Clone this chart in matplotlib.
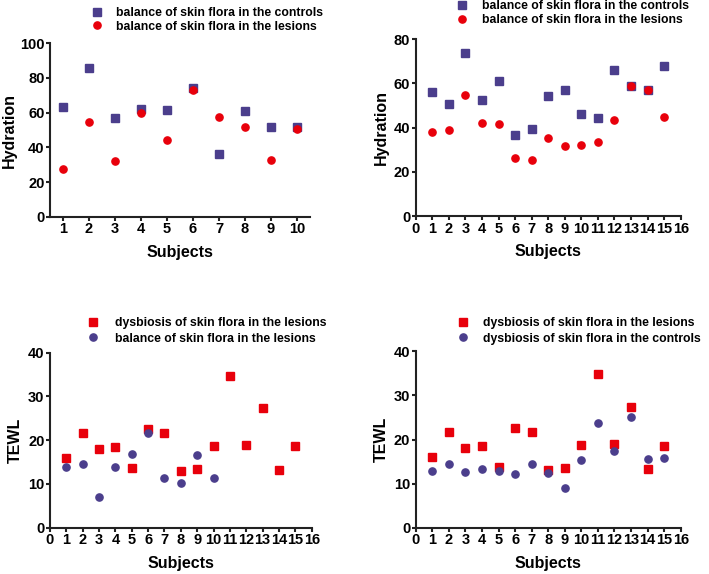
import matplotlib
matplotlib.use("Agg")
import matplotlib.pyplot as plt
import numpy as np

plt.rcParams['font.family'] = ['Liberation Sans', 'DejaVu Sans']
plt.rcParams['font.weight'] = 'bold'

# ---- data ----
p1_x = list(range(1, 11))
p1_controls = [63.5, 85.6, 57.1, 62.1, 61.3, 74.0, 36.3, 61.2, 51.7, 51.5]
p1_lesions = [27.5, 54.6, 31.9, 59.6, 44.2, 73.1, 57.5, 51.7, 32.9, 50.4]

p2_x = list(range(1, 16))
p2_controls = [56.0, 50.9, 73.7, 52.7, 61.1, 36.8, 39.2, 54.5, 56.9, 46.3, 44.5, 66.3, 59.0, 56.9, 68.1]
p2_lesions = [38.0, 38.9, 54.6, 42.1, 41.5, 26.3, 25.4, 35.5, 31.8, 32.3, 33.4, 43.6, 58.9, 57.1, 45.0]

p3_x_dys = list(range(1, 16))
p3_dys_lesions = [16.0, 21.6, 18.1, 18.5, 13.7, 22.5, 21.7, 13.0, 13.5, 18.7, 34.7, 18.9, 27.4, 13.2, 18.6]
p3_x_bal = list(range(1, 11))
p3_bal_lesions = [13.8, 14.6, 7.0, 13.9, 16.8, 21.7, 11.3, 10.3, 16.7, 11.4]

p4_x = list(range(1, 16))
p4_dys_lesions = [16.0, 21.7, 18.1, 18.6, 13.8, 22.5, 21.8, 13.0, 13.5, 18.8, 34.9, 18.9, 27.4, 13.2, 18.6]
p4_dys_controls = [12.9, 14.5, 12.6, 13.2, 12.9, 12.2, 14.5, 12.3, 9.1, 15.3, 23.7, 17.5, 25.0, 15.6, 15.8]

BLUE = '#4B3E8C'
RED = '#E8000B'

W, H = 709, 574
fig = plt.figure(figsize=(W / 100, H / 100), dpi=100)

LEG_FS = 8.8
FS_PX = LEG_FS * 100 / 72.0

def make_ax(left, top, right, bottom):
    return fig.add_axes([left / W, 1 - bottom / H, (right - left) / W, (bottom - top) / H])

def style(ax, ylabel, ylim, ystep, xlim, xticks, ylab_x, xlab_y):
    for s in ['top', 'right']:
        ax.spines[s].set_visible(False)
    for s in ['left', 'bottom']:
        ax.spines[s].set_linewidth(1.5)
        ax.spines[s].set_color('#222222')
    ax.set_ylim(*ylim)
    ax.set_yticks(np.arange(ylim[0], ylim[1] + 0.1, ystep))
    ax.set_xlim(*xlim)
    ax.set_xticks(xticks)
    ax.tick_params(direction='out', length=3, width=1.5, labelsize=10.5, pad=1.0, color='#222222')
    for lab in ax.get_xticklabels() + ax.get_yticklabels():
        lab.set_fontweight('bold')
    ax.set_xlabel('Subjects', fontsize=11.5, fontweight='bold')
    ax.set_ylabel(ylabel, fontsize=11.5, fontweight='bold')
    ax.yaxis.set_label_coords(ylab_x, 0.5)
    ax.xaxis.set_label_coords(0.5, xlab_y)

def legend(ax, mx, my, row, gap):
    hl = 1.0
    start = mx - hl * FS_PX / 2
    htp = (gap - hl * FS_PX / 2) / FS_PX
    text_h = 0.985 * FS_PX
    ls = (row - text_h) / FS_PX
    top = my - 0.45 * FS_PX
    leg = ax.legend(loc='upper left', bbox_to_anchor=(start / W, 1 - top / H),
                    bbox_transform=fig.transFigure, frameon=False,
                    borderpad=0, borderaxespad=0, handlelength=hl,
                    handletextpad=htp, labelspacing=ls,
                    prop={'weight': 'bold', 'size': LEG_FS})
    return leg

# Panel 1
ax1 = make_ax(50, 43.3, 310, 216.7)
ax1.plot(p1_x, p1_controls, 's', color=BLUE, ms=5.2, label='balance of skin flora in the controls', clip_on=False)
ax1.plot(p1_x, p1_lesions, 'o', color=RED, ms=5.2, label='balance of skin flora in the lesions', clip_on=False)
style(ax1, 'Hydration', (0, 100), 20, (0.5, 10.5), p1_x, -0.127, -0.166)
legend(ax1, 96.7, 12.7, 13.5, 19)

# Panel 2
ax2 = make_ax(415.7, 39.3, 680.7, 216)
ax2.plot(p2_x, p2_controls, 's', color=BLUE, ms=5.2, label='balance of skin flora in the controls', clip_on=False)
ax2.plot(p2_x, p2_lesions, 'o', color=RED, ms=5.2, label='balance of skin flora in the lesions', clip_on=False)
style(ax2, 'Hydration', (0, 80), 20, (0, 16), list(range(0, 17)), -0.0996, -0.158)
legend(ax2, 461.7, 5.5, 14.5, 20.5)

# Panel 3
ax3 = make_ax(50, 352.7, 311.7, 527.7)
ax3.plot(p3_x_dys, p3_dys_lesions, 's', color=RED, ms=5.2, label='dysbiosis of skin flora in the lesions', clip_on=False)
ax3.plot(p3_x_bal, p3_bal_lesions, 'o', color=BLUE, ms=5.2, label='balance of skin flora in the lesions', clip_on=False)
style(ax3, 'TEWL', (0, 40), 10, (0, 16), list(range(0, 17)), -0.104, -0.159)
legend(ax3, 93.3, 322.3, 16, 21.7)

# Panel 4
ax4 = make_ax(415.7, 351.3, 680.7, 527.7)
ax4.plot(p4_x, p4_dys_lesions, 's', color=RED, ms=5.2, label='dysbiosis of skin flora in the lesions', clip_on=False)
ax4.plot(p4_x, p4_dys_controls, 'o', color=BLUE, ms=5.2, label='dysbiosis of skin flora in the controls', clip_on=False)
style(ax4, 'TEWL', (0, 40), 10, (0, 16), list(range(0, 17)), -0.0996, -0.158)
legend(ax4, 463, 322.3, 16, 20.3)

fig.savefig('out.png', dpi=100)
